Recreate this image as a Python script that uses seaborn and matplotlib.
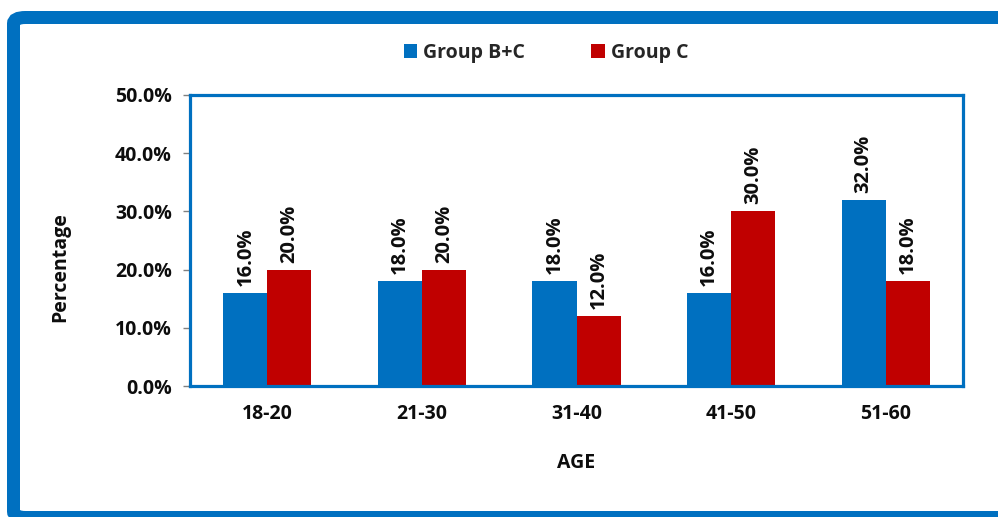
import matplotlib
matplotlib.use("Agg")
import matplotlib.pyplot as plt
import seaborn as sns
import pandas as pd
from matplotlib.patches import FancyBboxPatch, Patch
from matplotlib.ticker import FuncFormatter

# Data
age_groups = ["18-20", "21-30", "31-40", "41-50", "51-60"]
group_bc = [16.0, 18.0, 18.0, 16.0, 32.0]
group_c = [20.0, 20.0, 12.0, 30.0, 18.0]
series_names = ["Group B+C", "Group C"]
y_ticks = [0, 10, 20, 30, 40, 50]

BLUE = "#0070C0"
RED = "#C00000"
TEXT = "#0d0d0d"
FS = 14

df = pd.DataFrame({
    "AGE": age_groups * 2,
    "value": group_bc + group_c,
    "group": [series_names[0]] * len(age_groups) + [series_names[1]] * len(age_groups),
})

sns.set_theme(style="white")
plt.rcParams["font.family"] = ["Open Sans", "DejaVu Sans"]
plt.rcParams["font.weight"] = "bold"

fig = plt.figure(figsize=(9.98, 5.17), dpi=100)
W, H = 998, 517

# Outer blue frame around the chart
frame = FancyBboxPatch((13.5 / W, -0.5 / H), (1040 - 13.5) / W, (H - 17.5 + 0.5) / H,
                       boxstyle="round,pad=0,rounding_size=0.012",
                       transform=fig.transFigure, fill=False,
                       edgecolor=BLUE, linewidth=13 * 0.72, zorder=10)
fig.patches.append(frame)

ax = fig.add_axes([190 / W, (H - 386) / H, (963 - 190) / W, (386 - 95) / H])

sns.barplot(data=df, x="AGE", y="value", hue="group", order=age_groups,
            hue_order=series_names, palette=[BLUE, RED], width=0.57,
            gap=0, saturation=1, edgecolor="none", linewidth=0, ax=ax,
            legend=False)

ax.set_ylim(0, 50)
ax.set_xlim(-0.5, 4.5)
ax.set_yticks(y_ticks)
ax.yaxis.set_major_formatter(FuncFormatter(lambda v, _: f"{v:.1f}%"))
ax.tick_params(axis="y", which="major", length=5, width=1, color="#808080",
               left=True, pad=8, labelsize=FS)
ax.tick_params(axis="x", length=0, pad=13, labelsize=FS)
for lab in ax.get_xticklabels() + ax.get_yticklabels():
    lab.set_fontweight("bold")
    lab.set_color(TEXT)

for s in ax.spines.values():
    s.set_visible(True)
    s.set_color(BLUE)
    s.set_linewidth(2.3)

ax.set_xlabel("AGE", fontsize=FS, fontweight="bold", color=TEXT)
ax.set_ylabel("Percentage", fontsize=FS, fontweight="bold", color=TEXT)
ax.xaxis.set_label_coords(0.5, (386 - 463) / 291, transform=ax.transAxes)
ax.xaxis.label.set_va("center")
ax.yaxis.set_label_coords((60 - 190) / 773, (386 - 267) / 291, transform=ax.transAxes)
ax.yaxis.label.set_va("center")

# Rotated value labels above each bar
for container in ax.containers:
    ax.bar_label(container, labels=[f"{v:.1f}%" for v in container.datavalues],
                 rotation=90, padding=5, fontsize=FS + 0.5, fontweight="bold",
                 color=TEXT)

# Legend along the top
handles = [Patch(facecolor=BLUE, edgecolor="none"), Patch(facecolor=RED, edgecolor="none")]
fig.legend(handles, series_names, loc="center", bbox_to_anchor=(546 / W, (H - 53) / H),
           ncol=2, frameon=False, handlelength=0.7, handleheight=0.7,
           handletextpad=0.3, columnspacing=3.4, prop={"weight": "bold", "size": FS})

fig.savefig("out.png", dpi=100)
